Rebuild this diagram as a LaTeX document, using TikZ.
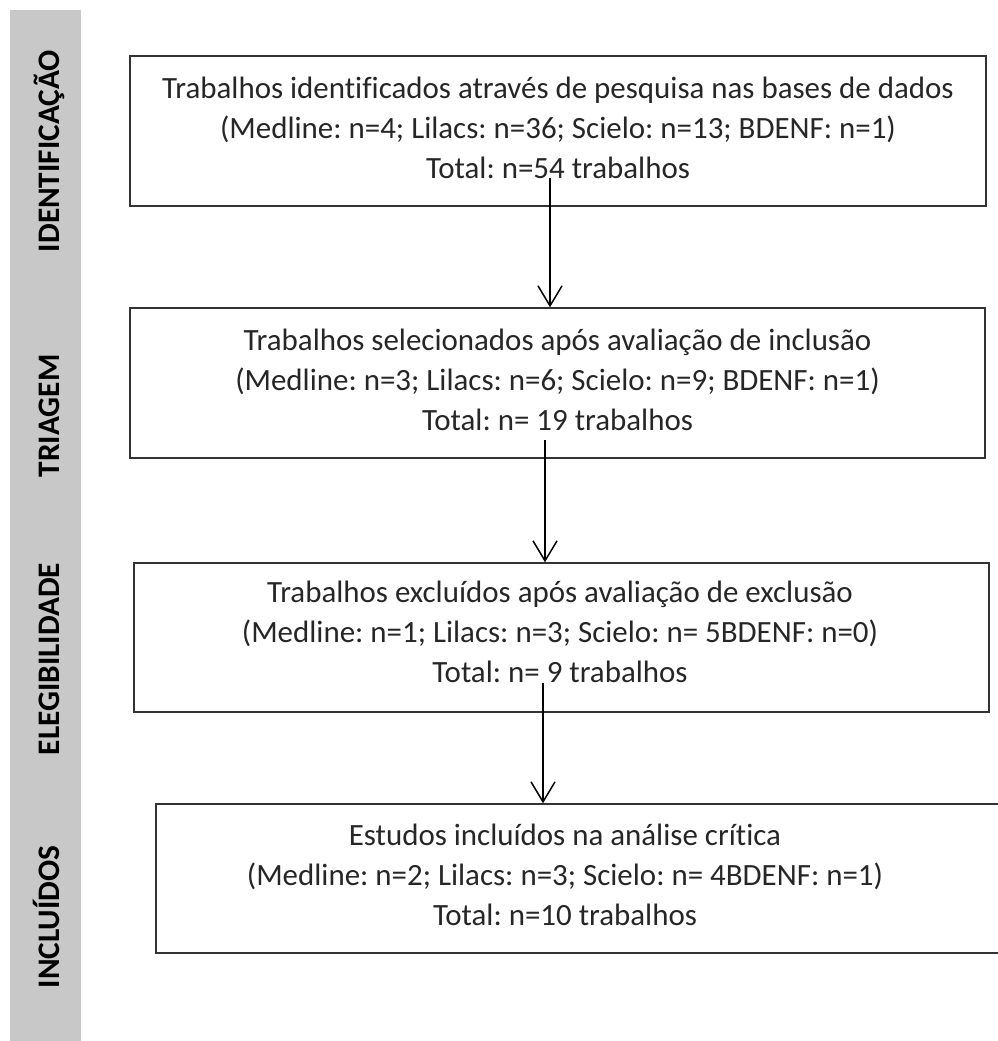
\documentclass[tikz,border=0pt]{standalone}
\usepackage{fontspec}
\setmainfont{Carlito}[Ligatures=CommonOff]
\frenchspacing
\usetikzlibrary{positioning,calc,arrows.meta}
\definecolor{barfill}{RGB}{200,200,200}
\tikzset{
	stage/.style={rotate=90, anchor=base, inner sep=0pt, font=\fontsize{23.5}{26}\selectfont\bfseries},
	stepbox/.style={draw=black!80, line width=1.1pt, inner sep=0pt},
	steptext/.style={align=center, inner sep=0pt, text=black!85, font=\fontsize{23.2}{30}\selectfont},
	flow/.style={-{Straight Barb[length=15pt, width=18pt, line width=1.1pt]}, line width=1.2pt},
}

\begin{document}
\begin{tikzpicture}[x=0.75pt, y=-0.75pt]
	\useasboundingbox (0,0) rectangle (998,1041);
	% stage bar
	\fill[barfill] (10,10) rectangle (81,1041);
	\node[stage] (idt) at (59.5,151) {IDENTIFICAÇÃO};
	\node[stage] (tri) at (59.5,416) {TRIAGEM};
	\node[stage] (ele) at (59.5,659) {ELEGIBILIDADE};
	\node[stage] (inc) at (59.5,917) {INCLUÍDOS};

	% boxes
	\node[stepbox, minimum width=642pt, minimum height=112.5pt] (b1) at (558,131) {};
	\node[stepbox, minimum width=641.25pt, minimum height=112.5pt] (b2) at (557.5,383) {};
	\node[stepbox, minimum width=641.25pt, minimum height=111.75pt] (b3) at (561.5,637.5) {};
	\node[stepbox, minimum width=636.75pt, minimum height=111.75pt] (b4) at (580.5,878.5) {};

	\node[steptext] (t1) at (558,128) {Trabalhos identificados através de pesquisa nas bases de dados\\(Medline: n=4; Lilacs: n=36; Scielo: n=13; BDENF: n=1)\\Total: n=54 trabalhos};
	\node[steptext] (t2) at (557.5,380) {Trabalhos selecionados após avaliação de inclusão\\(Medline: n=3; Lilacs: n=6; Scielo: n=9; BDENF: n=1)\\Total: n= 19 trabalhos};
	\node[steptext] (t3) at (560,632) {Trabalhos excluídos após avaliação de exclusão\\(Medline: n=1; Lilacs: n=3; Scielo: n= 5BDENF: n=0)\\Total: n= 9 trabalhos};
	\node[steptext] (t4) at (565,875) {Estudos incluídos na análise crítica\\(Medline: n=2; Lilacs: n=3; Scielo: n= 4BDENF: n=1)\\Total: n=10 trabalhos};

	% arrows
	\coordinate (s1) at (550,178);
	\coordinate (s2) at (545,440);
	\coordinate (s3) at (543,683);
	\draw[flow] (s1) -- (s1 |- b2.north);
	\draw[flow] (s2) -- (s2 |- b3.north);
	\draw[flow] (s3) -- (s3 |- b4.north);
\end{tikzpicture}
\end{document}
